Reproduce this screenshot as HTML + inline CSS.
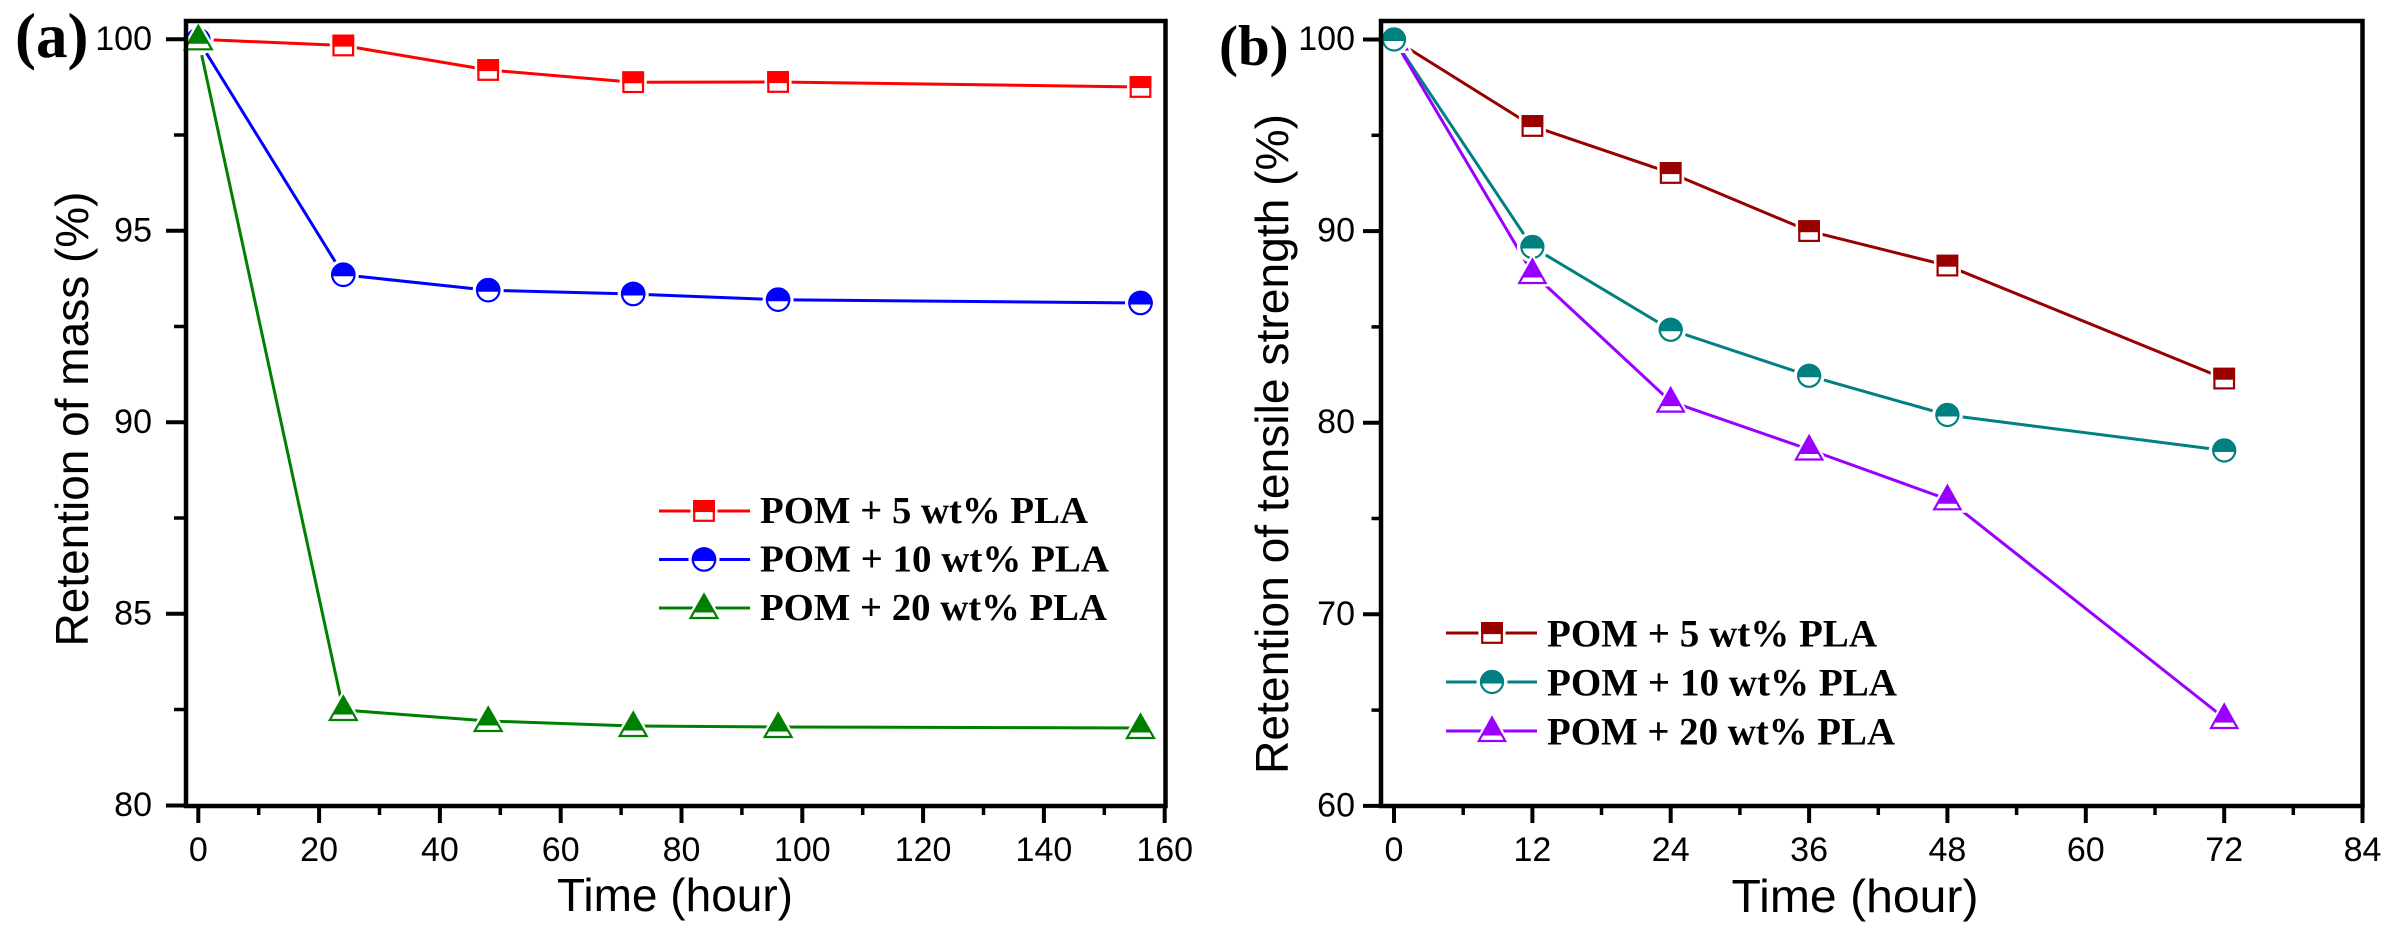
<!DOCTYPE html>
<html>
<head>
<meta charset="utf-8">
<style>
html,body{margin:0;padding:0;background:#fff;}
svg{display:block;}
.ax{font-family:"Liberation Sans",Arial,sans-serif;fill:#000;}
.lg{font-family:"Liberation Serif","Times New Roman",serif;font-weight:bold;fill:#000;}
</style>
</head>
<body>
<svg width="2392" height="932" viewBox="0 0 2392 932" xmlns="http://www.w3.org/2000/svg">
<defs>
  <!-- panel a markers -->
  <g id="sqA">
    <rect x="-13.5" y="-13.5" width="27" height="27" fill="#fff"/>
    <rect x="-9.8" y="-9.8" width="19.6" height="19.6" fill="#fff" stroke="#ff0000" stroke-width="2.2"/>
    <rect x="-10.9" y="-10.9" width="21.8" height="12" fill="#ff0000"/>
  </g>
  <g id="ciA">
    <circle r="15.5" fill="#fff"/>
    <circle r="11.2" fill="#fff" stroke="#0000ff" stroke-width="2.2"/>
    <path d="M-12.2,1.5 A12.3,12.3 0 1 1 12.2,1.5 Z" fill="#0000ff"/>
  </g>
  <g id="trA">
    <polygon points="0,-20 -19.5,13.5 19.5,13.5" fill="#fff"/>
    <polygon points="0,-13.5 -13.5,10 13.5,10" fill="#fff" stroke="#008000" stroke-width="2.2" stroke-linejoin="miter"/>
    <polygon points="0,-14.5 -10.5,4.5 10.5,4.5" fill="#008000"/>
  </g>
  <!-- panel b markers -->
  <g id="sqB">
    <rect x="-13.5" y="-13.5" width="27" height="27" fill="#fff"/>
    <rect x="-9.8" y="-9.8" width="19.6" height="19.6" fill="#fff" stroke="#990000" stroke-width="2.2"/>
    <rect x="-10.9" y="-10.9" width="21.8" height="12" fill="#990000"/>
  </g>
  <g id="ciB">
    <circle r="15.5" fill="#fff"/>
    <circle r="11" fill="#fff" stroke="#008080" stroke-width="2.2"/>
    <path d="M-12,1.5 A12.1,12.1 0 1 1 12,1.5 Z" fill="#008080"/>
  </g>
  <g id="trB">
    <polygon points="0,-20 -19,13.5 19,13.5" fill="#fff"/>
    <polygon points="0,-13.5 -13.2,10 13.2,10" fill="#fff" stroke="#9900ff" stroke-width="2.2"/>
    <polygon points="0,-14.5 -10.3,4.5 10.3,4.5" fill="#9900ff"/>
  </g>
</defs>

<!-- ================= PANEL A ================= -->
<text class="lg" x="15" y="57" font-size="63">(a)</text>

<!-- series lines -->
<polyline fill="none" stroke="#ff0000" stroke-width="3" points="198.3,39.3 343.3,45.5 488.2,70 633.2,82.2 778.1,82 1140.5,87"/>
<polyline fill="none" stroke="#0000ff" stroke-width="3" points="198.3,40 343.3,274.8 488.2,290.2 633.2,294 778.1,299.7 1140.5,303"/>
<polyline fill="none" stroke="#008000" stroke-width="3" points="198.3,39.3 343.3,710 488.2,721 633.2,726 778.1,727 1140.5,728"/>

<!-- markers -->
<use href="#sqA" x="343.3" y="45.5"/>
<use href="#sqA" x="488.2" y="70"/>
<use href="#sqA" x="633.2" y="82.2"/>
<use href="#sqA" x="778.1" y="82"/>
<use href="#sqA" x="1140.5" y="87"/>
<use href="#ciA" x="343.3" y="274.8"/>
<use href="#ciA" x="488.2" y="290.2"/>
<use href="#ciA" x="633.2" y="294"/>
<use href="#ciA" x="778.1" y="299.7"/>
<use href="#ciA" x="1140.5" y="303"/>
<use href="#trA" x="343.3" y="710"/>
<use href="#trA" x="488.2" y="721"/>
<use href="#trA" x="633.2" y="726"/>
<use href="#trA" x="778.1" y="727"/>
<use href="#trA" x="1140.5" y="728"/>
<use href="#sqA" x="198.3" y="39.3"/>
<use href="#ciA" x="198.3" y="40"/>
<use href="#trA" x="198.3" y="39.3"/>

<!-- frame -->
<rect x="186" y="21" width="979.5" height="785" fill="none" stroke="#000" stroke-width="4.5"/>

<!-- y ticks -->
<g stroke="#000" stroke-width="4">
  <line x1="166" y1="39.3" x2="186" y2="39.3"/>
  <line x1="166" y1="230.8" x2="186" y2="230.8"/>
  <line x1="166" y1="422.3" x2="186" y2="422.3"/>
  <line x1="166" y1="613.8" x2="186" y2="613.8"/>
  <line x1="166" y1="805.5" x2="186" y2="805.5"/>
</g>
<g stroke="#000" stroke-width="3.5">
  <line x1="174" y1="135" x2="186" y2="135"/>
  <line x1="174" y1="326.5" x2="186" y2="326.5"/>
  <line x1="174" y1="518" x2="186" y2="518"/>
  <line x1="174" y1="709.5" x2="186" y2="709.5"/>
</g>
<!-- x ticks -->
<g stroke="#000" stroke-width="4">
  <line x1="198.3" y1="806" x2="198.3" y2="823"/>
  <line x1="319.1" y1="806" x2="319.1" y2="823"/>
  <line x1="439.9" y1="806" x2="439.9" y2="823"/>
  <line x1="560.7" y1="806" x2="560.7" y2="823"/>
  <line x1="681.5" y1="806" x2="681.5" y2="823"/>
  <line x1="802.3" y1="806" x2="802.3" y2="823"/>
  <line x1="923.1" y1="806" x2="923.1" y2="823"/>
  <line x1="1043.9" y1="806" x2="1043.9" y2="823"/>
  <line x1="1164.7" y1="806" x2="1164.7" y2="823"/>
</g>
<g stroke="#000" stroke-width="3.5">
  <line x1="258.7" y1="806" x2="258.7" y2="815"/>
  <line x1="379.5" y1="806" x2="379.5" y2="815"/>
  <line x1="500.3" y1="806" x2="500.3" y2="815"/>
  <line x1="621.1" y1="806" x2="621.1" y2="815"/>
  <line x1="741.9" y1="806" x2="741.9" y2="815"/>
  <line x1="862.7" y1="806" x2="862.7" y2="815"/>
  <line x1="983.5" y1="806" x2="983.5" y2="815"/>
  <line x1="1104.3" y1="806" x2="1104.3" y2="815"/>
</g>

<!-- tick labels a -->
<g class="ax" font-size="34" text-anchor="end">
  <text x="152" y="50">100</text>
  <text x="152" y="241.3">95</text>
  <text x="152" y="432.8">90</text>
  <text x="152" y="624.3">85</text>
  <text x="152" y="816">80</text>
</g>
<g class="ax" font-size="34" text-anchor="middle">
  <text x="198.3" y="861">0</text>
  <text x="319.1" y="861">20</text>
  <text x="439.9" y="861">40</text>
  <text x="560.7" y="861">60</text>
  <text x="681.5" y="861">80</text>
  <text x="802.3" y="861">100</text>
  <text x="923.1" y="861">120</text>
  <text x="1043.9" y="861">140</text>
  <text x="1164.7" y="861">160</text>
</g>

<!-- axis titles a -->
<text class="ax" font-size="46" text-anchor="middle" x="675" y="911" textLength="236" lengthAdjust="spacingAndGlyphs">Time (hour)</text>
<text class="ax" font-size="46" text-anchor="middle" transform="translate(88,419) rotate(-90)" textLength="455" lengthAdjust="spacingAndGlyphs">Retention of mass (%)</text>

<!-- legend a -->
<line x1="659" y1="511" x2="750" y2="511" stroke="#ff0000" stroke-width="3"/>
<line x1="659" y1="559.5" x2="750" y2="559.5" stroke="#0000ff" stroke-width="3"/>
<line x1="659" y1="608" x2="750" y2="608" stroke="#008000" stroke-width="3"/>
<use href="#sqA" x="704" y="511"/>
<use href="#ciA" x="704" y="559.5"/>
<use href="#trA" x="704" y="608"/>
<text class="lg" font-size="38" x="760" y="523" textLength="328" lengthAdjust="spacingAndGlyphs">POM + 5 wt% PLA</text>
<text class="lg" font-size="38" x="760" y="571.5" textLength="349" lengthAdjust="spacingAndGlyphs">POM + 10 wt% PLA</text>
<text class="lg" font-size="38" x="760" y="620" textLength="347" lengthAdjust="spacingAndGlyphs">POM + 20 wt% PLA</text>

<!-- ================= PANEL B ================= -->
<text class="lg" x="1219" y="65" font-size="57">(b)</text>

<polyline fill="none" stroke="#990000" stroke-width="3" points="1394,39.5 1532.4,126 1670.7,173 1809.1,231.1 1947.4,265.6 2224.2,378.6"/>
<polyline fill="none" stroke="#008080" stroke-width="3" points="1394,39.5 1532.4,247 1670.7,329.8 1809.1,375.8 1947.4,415 2224.2,450.5"/>
<polyline fill="none" stroke="#9900ff" stroke-width="3" points="1394,39.5 1532.4,273 1670.7,401.6 1809.1,449.5 1947.4,499.3 2224.2,718"/>

<use href="#sqB" x="1532.4" y="126"/>
<use href="#sqB" x="1670.7" y="173"/>
<use href="#sqB" x="1809.1" y="231.1"/>
<use href="#sqB" x="1947.4" y="265.6"/>
<use href="#sqB" x="2224.2" y="378.6"/>
<use href="#ciB" x="1532.4" y="247"/>
<use href="#ciB" x="1670.7" y="329.8"/>
<use href="#ciB" x="1809.1" y="375.8"/>
<use href="#ciB" x="1947.4" y="415"/>
<use href="#ciB" x="2224.2" y="450.5"/>
<use href="#trB" x="1532.4" y="273"/>
<use href="#trB" x="1670.7" y="401.6"/>
<use href="#trB" x="1809.1" y="449.5"/>
<use href="#trB" x="1947.4" y="499.3"/>
<use href="#trB" x="2224.2" y="718"/>
<use href="#sqB" x="1394" y="39.5"/>
<use href="#trB" x="1394" y="39.5"/>
<use href="#ciB" x="1394" y="39.5"/>

<rect x="1381" y="21" width="981.5" height="785" fill="none" stroke="#000" stroke-width="4.5"/>

<g stroke="#000" stroke-width="4">
  <line x1="1363" y1="39.5" x2="1381" y2="39.5"/>
  <line x1="1363" y1="231.1" x2="1381" y2="231.1"/>
  <line x1="1363" y1="422.7" x2="1381" y2="422.7"/>
  <line x1="1363" y1="614.3" x2="1381" y2="614.3"/>
  <line x1="1363" y1="805.9" x2="1381" y2="805.9"/>
</g>
<g stroke="#000" stroke-width="3.5">
  <line x1="1371.5" y1="135.3" x2="1381" y2="135.3"/>
  <line x1="1371.5" y1="326.9" x2="1381" y2="326.9"/>
  <line x1="1371.5" y1="518.5" x2="1381" y2="518.5"/>
  <line x1="1371.5" y1="710.1" x2="1381" y2="710.1"/>
</g>
<g stroke="#000" stroke-width="4">
  <line x1="1394" y1="806" x2="1394" y2="823"/>
  <line x1="1532.4" y1="806" x2="1532.4" y2="823"/>
  <line x1="1670.7" y1="806" x2="1670.7" y2="823"/>
  <line x1="1809.1" y1="806" x2="1809.1" y2="823"/>
  <line x1="1947.4" y1="806" x2="1947.4" y2="823"/>
  <line x1="2085.8" y1="806" x2="2085.8" y2="823"/>
  <line x1="2224.2" y1="806" x2="2224.2" y2="823"/>
  <line x1="2362.5" y1="806" x2="2362.5" y2="823"/>
</g>
<g stroke="#000" stroke-width="3.5">
  <line x1="1463.2" y1="806" x2="1463.2" y2="815"/>
  <line x1="1601.5" y1="806" x2="1601.5" y2="815"/>
  <line x1="1739.9" y1="806" x2="1739.9" y2="815"/>
  <line x1="1878.3" y1="806" x2="1878.3" y2="815"/>
  <line x1="2016.6" y1="806" x2="2016.6" y2="815"/>
  <line x1="2155" y1="806" x2="2155" y2="815"/>
  <line x1="2293.3" y1="806" x2="2293.3" y2="815"/>
</g>

<g class="ax" font-size="34" text-anchor="end">
  <text x="1355" y="50">100</text>
  <text x="1355" y="241.6">90</text>
  <text x="1355" y="433.2">80</text>
  <text x="1355" y="624.8">70</text>
  <text x="1355" y="816.4">60</text>
</g>
<g class="ax" font-size="34" text-anchor="middle">
  <text x="1394" y="861">0</text>
  <text x="1532.4" y="861">12</text>
  <text x="1670.7" y="861">24</text>
  <text x="1809.1" y="861">36</text>
  <text x="1947.4" y="861">48</text>
  <text x="2085.8" y="861">60</text>
  <text x="2224.2" y="861">72</text>
  <text x="2362.5" y="861">84</text>
</g>

<text class="ax" font-size="46" text-anchor="middle" x="1855" y="912" textLength="247" lengthAdjust="spacingAndGlyphs">Time (hour)</text>
<text class="ax" font-size="46" text-anchor="middle" transform="translate(1288,444) rotate(-90)" textLength="660" lengthAdjust="spacingAndGlyphs">Retention of tensile strength (%)</text>

<line x1="1446" y1="633" x2="1537" y2="633" stroke="#990000" stroke-width="3"/>
<line x1="1446" y1="682" x2="1537" y2="682" stroke="#008080" stroke-width="3"/>
<line x1="1446" y1="731" x2="1537" y2="731" stroke="#9900ff" stroke-width="3"/>
<use href="#sqB" x="1492" y="633"/>
<use href="#ciB" x="1492" y="682"/>
<use href="#trB" x="1492" y="731"/>
<text class="lg" font-size="39" x="1547" y="646.5" textLength="330" lengthAdjust="spacingAndGlyphs">POM + 5 wt% PLA</text>
<text class="lg" font-size="39" x="1547" y="695.5" textLength="350" lengthAdjust="spacingAndGlyphs">POM + 10 wt% PLA</text>
<text class="lg" font-size="39" x="1547" y="744.5" textLength="348" lengthAdjust="spacingAndGlyphs">POM + 20 wt% PLA</text>
</svg>
</body>
</html>
